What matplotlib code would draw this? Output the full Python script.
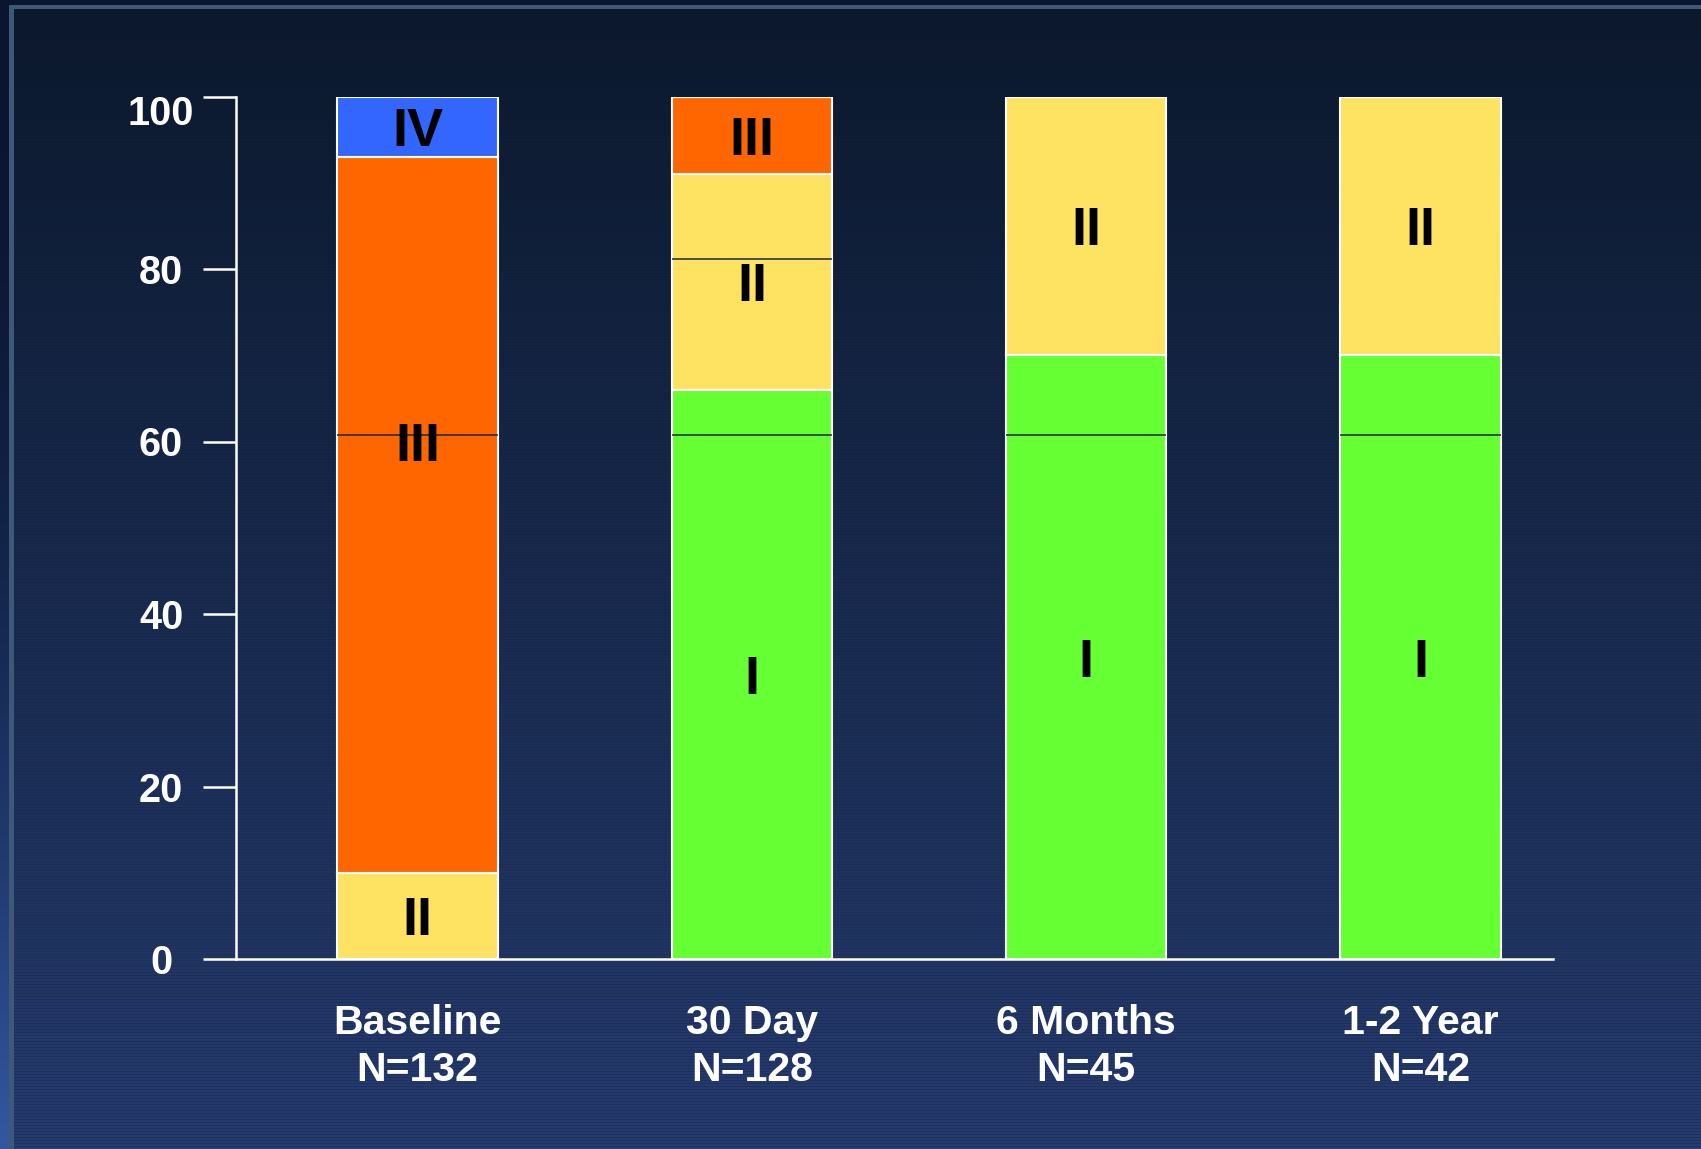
import numpy as np
import matplotlib
matplotlib.use("Agg")
import matplotlib.pyplot as plt
import matplotlib.transforms as mtransforms
from matplotlib.colors import to_rgb

plt.rcParams['font.family'] = ['Liberation Sans', 'DejaVu Sans']
plt.rcParams['font.weight'] = 'bold'

# Functional class share (%) at each follow-up visit
visits = ["Baseline", "30 Day", "6 Months", "1-2 Year"]
patients = [132, 128, 45, 42]
class_names = ["I", "II", "III", "IV"]
class_i = [0, 66, 70, 70]
class_ii = [10, 25, 30, 30]
class_iii = [83, 9, 0, 0]
class_iv = [7, 0, 0, 0]
class_colors = ["#66ff33", "#fee262", "#ff6600", "#3366ff"]

# thin dark rules that cross the bars: (bar index, level)
rules = [(0, 60.8), (1, 60.8), (2, 60.8), (3, 60.8), (1, 81.2)]

W, H = 1701, 1149
fig = plt.figure(figsize=(W / 100, H / 100), dpi=100)

# --- slide background: navy gradient with scanlines and a thin frame ---
rows = np.arange(H)[:, None]
t = rows / (H - 1)
top, bottom = np.array(to_rgb("#0b182c")), np.array(to_rgb("#24396b"))
grad = top + (bottom - top) * t[..., None]
bg = np.repeat(grad, W, axis=1)
amp = 0.015 + 0.05 * t
amp = np.where(rows > 965, amp + 0.05, amp)
stripe = np.where(rows % 3 == 0, 1 - amp, 1 + amp * 0.4)
bg = bg * stripe[..., None]
outer_top, outer_bot = np.array(to_rgb("#0a1530")), np.array(to_rgb("#3358a3"))
outer = outer_top + (outer_bot - outer_top) * t[..., None] ** 2
bg[:, :9] = outer[:, 0][:, None, :]
bg[:5, :] = to_rgb("#0a1530")
bg[5:9, 9:] = to_rgb("#3d5878")
bg[5:, 9:14] = to_rgb("#3d5878")
bg = np.clip(bg, 0, 1)

bg_ax = fig.add_axes([0, 0, 1, 1], zorder=0)
bg_ax.imshow(bg, aspect="auto", interpolation="nearest")
bg_ax.axis("off")

# --- chart axes ---
left_px, right_px, bottom_px, top_px = 236, 1553, 959, 96.5
ax = fig.add_axes([left_px / W, 1 - bottom_px / H,
                   (right_px - left_px) / W, (bottom_px - top_px) / H], zorder=1)
ax.patch.set_alpha(0)

x = np.arange(len(visits))
width = 0.48
base = np.zeros(len(visits))
segments = [class_i, class_ii, class_iii, class_iv]
for name, vals, color in zip(class_names, segments, class_colors):
    vals = np.array(vals, dtype=float)
    ax.bar(x, vals, width, bottom=base, color=color, edgecolor="white",
           linewidth=1.5, zorder=2)
    for i, v in enumerate(vals):
        if v <= 0:
            continue
        ymid = base[i] + v / 2
        if name == "III" and v > 70:
            ymid = 60
        ax.annotate(name, (x[i], ymid), xytext=(0, -14), textcoords="offset points",
                    ha="center", va="baseline", fontsize=39, fontweight="bold",
                    color="black", zorder=4)
    base += vals

for i, level in rules:
    ax.hlines(level, x[i] - width / 2, x[i] + width / 2, color="#1b2444",
              linewidth=1.1, zorder=3)

ax.set_xlim(-0.543, 3.396)
ax.set_ylim(0, 100)
ax.set_yticks([0, 20, 40, 60, 80, 100])
ax.tick_params(axis="y", colors="white", labelsize=28.5, length=24, width=1.8,
               pad=30, direction="out")
for lab in ax.get_yticklabels():
    lab.set_horizontalalignment("center")
    lab.set_fontweight("bold")
# the top label sits a little below its tick
top_lab = ax.get_yticklabels()[-1]
top_lab.set_transform(top_lab.get_transform() +
                      mtransforms.ScaledTranslation(0, -10 / 72, fig.dpi_scale_trans))
ax.set_xticks([])

for side in ["top", "right"]:
    ax.spines[side].set_visible(False)
ax.spines["left"].set_color("white")
ax.spines["bottom"].set_color("white")
ax.spines["left"].set_linewidth(1.8)
ax.spines["bottom"].set_linewidth(1.8)
ax.spines["left"].set_bounds(0, 100)

for i, (visit, n) in enumerate(zip(visits, patients)):
    ax.text(x[i], -0.102, f"{visit}\nN={n}", transform=ax.get_xaxis_transform(),
            ha="center", va="center", fontsize=29.5, fontweight="bold",
            color="white", linespacing=1.3)

fig.savefig("out.png", dpi=100)
